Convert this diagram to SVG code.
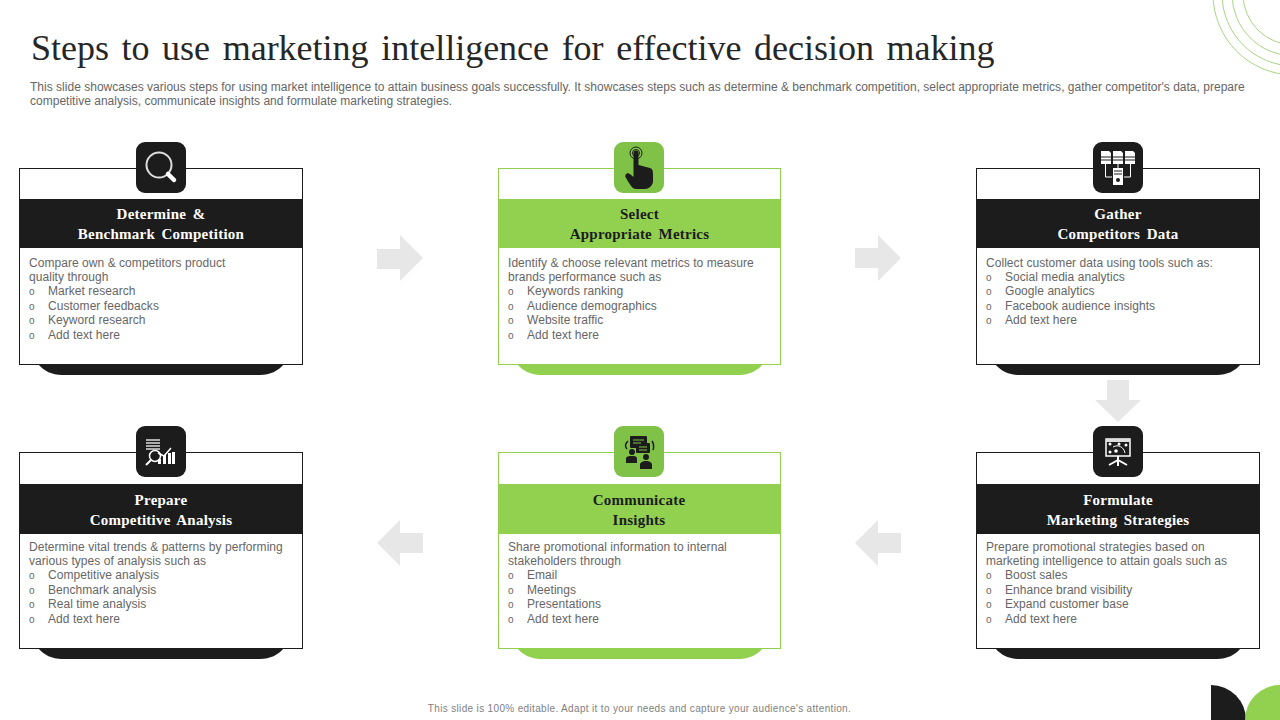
<svg xmlns="http://www.w3.org/2000/svg" width="1280" height="720" viewBox="0 0 1280 720">
<style>
text{font-family:"Liberation Sans",Arial,sans-serif}
.title{font-family:"Liberation Serif","Times New Roman",serif;font-size:36px;fill:#262626;word-spacing:3.550px}
.sub{font-size:12px;fill:#666;letter-spacing:.015px}
.foot{font-size:10px;fill:#7f7f7f;letter-spacing:.34px}
.h{font-family:"Liberation Serif","Times New Roman",serif;font-size:15px;font-weight:bold;text-anchor:middle;word-spacing:2.500px;letter-spacing:.24px}
.hw{fill:#fff}.hb{fill:#1c1c1c}
.b{font-size:12px;fill:#666;letter-spacing:.05px}
.o{font-size:10px;fill:#666}
.ring{fill:none;stroke:#a9d585;stroke-width:1}
.arrow{fill:#e7e7e7}
.cw{fill:#fff;stroke-width:1}
.k .cw{stroke:#1c1c1c}.g .cw{stroke:#92d050}
.k .f{fill:#1c1c1c}.g .f{fill:#92d050}
.g .ic{fill:#7fc247}
.dk{fill:#1c1c1c}.wt{fill:#fff}.dl{fill:none;stroke:#1c1c1c;stroke-width:1.500}
</style>
<rect width="1280" height="720" fill="#fff"/>
<g id="decor">
<circle class="ring" cx="1294" cy="-6" r="51"/><circle class="ring" cx="1294" cy="-6" r="62"/><circle class="ring" cx="1294" cy="-6" r="72"/><circle class="ring" cx="1294" cy="-6" r="81"/>
<path class="dk" d="M1211 685A35 35 0 0 1 1246 720H1211Z"/>
<path fill="#92d050" d="M1245 720A35 35 0 0 1 1280 685V720Z"/>
</g>
<text class="title" x="31" y="60">Steps to use marketing intelligence for effective decision making</text>
<text class="sub" x="30" y="91">This slide showcases various steps for using market intelligence to attain business goals successfully. It showcases steps such as determine &amp; benchmark competition, select appropriate metrics, gather competitor's data, prepare</text>
<text class="sub" x="30" y="105">competitive analysis, communicate insights and formulate marketing strategies.</text>
<g id="connectors">
<path class="arrow" d="M377 249H400V235L423 258L400 281V269H377Z"/>
<path class="arrow" d="M855 248H878V235L901 258L878 281V268H855Z"/>
<path class="arrow" d="M1107 380H1129V400H1141L1118 422L1095 400H1107Z"/>
<path class="arrow" d="M901 533H878V520L855 543L878 566V553H901Z"/>
<path class="arrow" d="M423 533H400V520L377 543L400 566V553H423Z"/>
</g>
<g id="node-determine" class="k">
<path class="f" d="M38 364H284C278 371 270 375 260 375H62C52 375 44 371 38 364Z"/>
<rect class="cw" x="19.500" y="168.500" width="283" height="196"/>
<rect class="f" x="19" y="199" width="284" height="49"/>
<rect class="f" x="136" y="142" width="50" height="51" rx="9"/>
<circle cx="159" cy="165" r="12.500" fill="none" stroke="#dedede" stroke-width="2"/>
<path d="M168 174L174 180" stroke="#fff" stroke-width="4.500" stroke-linecap="round"/>
<text class="h hw" x="161" y="219">Determine &amp;</text><text class="h hw" x="161" y="239">Benchmark Competition</text>
<text class="b" x="29" y="267">Compare own &amp; competitors product</text><text class="b" x="29" y="281">quality through</text>
<text class="o" x="29" y="295">o</text><text class="b" x="48" y="295">Market research</text>
<text class="o" x="29" y="310">o</text><text class="b" x="48" y="310">Customer feedbacks</text>
<text class="o" x="29" y="324">o</text><text class="b" x="48" y="324">Keyword research</text>
<text class="o" x="29" y="339">o</text><text class="b" x="48" y="339">Add text here</text>
</g>
<g id="node-metrics" class="g">
<path class="f" d="M517 364H763C757 371 749 375 739 375H541C531 375 523 371 517 364Z"/>
<rect class="cw" x="498.500" y="168.500" width="282" height="196"/>
<rect class="f" x="498" y="199" width="283" height="49"/>
<rect class="ic" x="614" y="142" width="50" height="51" rx="9"/>
<circle cx="636" cy="153" r="6" fill="none" stroke="#1c1c1c" stroke-width="1"/>
<circle cx="636" cy="153" r="3.500" fill="none" stroke="#1c1c1c" stroke-width="1"/>
<path class="dk" d="M633.500 153a2.500 2.500 0 0 1 5 0V165L650 168C653 169 653 172 653 175V182C652 186 649 189 645 189H636C633 189 631 186 629 183L626 178C624 175 627 172 630 174L633.500 177Z"/>
<text class="h hb" x="639.500" y="219">Select</text><text class="h hb" x="639.500" y="239">Appropriate Metrics</text>
<text class="b" x="508" y="267">Identify &amp; choose relevant metrics to measure</text><text class="b" x="508" y="281">brands performance such as</text>
<text class="o" x="508" y="295">o</text><text class="b" x="527" y="295">Keywords ranking</text>
<text class="o" x="508" y="310">o</text><text class="b" x="527" y="310">Audience demographics</text>
<text class="o" x="508" y="324">o</text><text class="b" x="527" y="324">Website traffic</text>
<text class="o" x="508" y="339">o</text><text class="b" x="527" y="339">Add text here</text>
</g>
<g id="node-gather" class="k">
<path class="f" d="M995 364H1241C1235 371 1227 375 1217 375H1019C1009 375 1001 371 995 364Z"/>
<rect class="cw" x="976.500" y="168.500" width="283" height="196"/>
<rect class="f" x="977" y="199" width="283" height="49"/>
<rect class="f" x="1093" y="142" width="50" height="51" rx="9"/>
<path class="wt" d="M1101 151H1109L1111 153V164H1101ZM1113 151H1121L1123 153V164H1113ZM1125 151H1133L1135 153V164H1125ZM1113 168H1123V185H1113Z"/>
<path d="M1101 157H1111M1113 157H1123M1125 157H1135M1101 160H1111M1113 160H1123M1125 160H1135M1114 171H1122M1114 174H1122" stroke="#1c1c1c" stroke-width="1"/>
<circle class="dk" cx="1118" cy="180" r="2"/>
<path d="M1105.500 164V177H1112M1118 164V168M1130.500 164V177H1124" stroke="#fff" stroke-width="1" fill="none"/>
<text class="h hw" x="1118" y="219">Gather</text><text class="h hw" x="1118" y="239">Competitors Data</text>
<text class="b" x="986" y="267">Collect customer data using tools such as:</text>
<text class="o" x="986" y="281">o</text><text class="b" x="1005" y="281">Social media analytics</text>
<text class="o" x="986" y="295">o</text><text class="b" x="1005" y="295">Google analytics</text>
<text class="o" x="986" y="310">o</text><text class="b" x="1005" y="310">Facebook audience insights</text>
<text class="o" x="986" y="324">o</text><text class="b" x="1005" y="324">Add text here</text>
</g>
<g id="node-formulate" class="k">
<path class="f" d="M995 648H1241C1235 655 1227 659 1217 659H1019C1009 659 1001 655 995 648Z"/>
<rect class="cw" x="976.500" y="452.500" width="283" height="196"/>
<rect class="f" x="977" y="484" width="283" height="50"/>
<rect class="f" x="1093" y="426" width="50" height="51" rx="9"/>
<rect x="1106" y="439" width="24" height="17" fill="none" stroke="#fff" stroke-width="1.500"/>
<path d="M1106 439H1130V442H1106Z" fill="#ddd"/>
<path d="M1118 456V460M1118 460L1109 465M1118 460L1127 465M1118 460V466" stroke="#fff" stroke-width="2" fill="none"/>
<circle class="wt" cx="1110" cy="444" r="1.500"/><circle class="wt" cx="1119" cy="444" r="1.500"/><circle class="wt" cx="1126" cy="445" r="1.500"/><circle class="wt" cx="1110" cy="452" r="1.500"/><circle class="wt" cx="1116" cy="451" r="1.800"/>
<path d="M1113 447C1118 444 1124 447 1125 453" stroke="#fff" fill="none"/>
<text class="h hw" x="1118" y="505">Formulate</text><text class="h hw" x="1118" y="525">Marketing Strategies</text>
<text class="b" x="986" y="551">Prepare promotional strategies based on</text><text class="b" x="986" y="565">marketing intelligence to attain goals such as</text>
<text class="o" x="986" y="579">o</text><text class="b" x="1005" y="579">Boost sales</text>
<text class="o" x="986" y="594">o</text><text class="b" x="1005" y="594">Enhance brand visibility</text>
<text class="o" x="986" y="608">o</text><text class="b" x="1005" y="608">Expand customer base</text>
<text class="o" x="986" y="623">o</text><text class="b" x="1005" y="623">Add text here</text>
</g>
<g id="node-communicate" class="g">
<path class="f" d="M517 648H763C757 655 749 659 739 659H541C531 659 523 655 517 648Z"/>
<rect class="cw" x="498.500" y="452.500" width="282" height="196"/>
<rect class="f" x="498" y="484" width="283" height="50"/>
<rect class="ic" x="614" y="426" width="50" height="51" rx="9"/>
<rect class="dk" x="630" y="436" width="17" height="12" rx="1"/>
<rect class="dk" x="636" y="443" width="14" height="10" rx="1"/>
<path d="M633 440H644M633 443H641M639 447H647M639 450H647" stroke="#7fc247" stroke-width="1"/>
<circle class="dk" cx="632" cy="452" r="3"/><circle class="dk" cx="646" cy="457" r="3"/>
<path class="dk" d="M626 463V459C626 456 629 456 632 456C635 456 637 456 637 459V463ZM640 469V465C640 462 643 461 646 461C649 461 652 462 652 465V469Z"/>
<path class="dl" d="M628 441C625 444 625 447 627 449M652 441C654 444 654 447 653 450"/>
<text class="h hb" x="639" y="505">Communicate</text><text class="h hb" x="639" y="525">Insights</text>
<text class="b" x="508" y="551">Share promotional information to internal</text><text class="b" x="508" y="565">stakeholders through</text>
<text class="o" x="508" y="579">o</text><text class="b" x="527" y="579">Email</text>
<text class="o" x="508" y="594">o</text><text class="b" x="527" y="594">Meetings</text>
<text class="o" x="508" y="608">o</text><text class="b" x="527" y="608">Presentations</text>
<text class="o" x="508" y="623">o</text><text class="b" x="527" y="623">Add text here</text>
</g>
<g id="node-prepare" class="k">
<path class="f" d="M38 648H284C278 655 270 659 260 659H62C52 659 44 655 38 648Z"/>
<rect class="cw" x="19.500" y="452.500" width="283" height="196"/>
<rect class="f" x="19" y="484" width="284" height="50"/>
<rect class="f" x="136" y="426" width="50" height="51" rx="9"/>
<path d="M146 440H160M146 443H160M146 446H160M146 449H160" stroke="#ddd" stroke-width="1.500"/>
<circle cx="155" cy="456" r="5.500" fill="none" stroke="#fff" stroke-width="1.500"/>
<path d="M151 460L146 465" stroke="#fff" stroke-width="2"/>
<path d="M158 453L164 456L171 448" stroke="#fff" stroke-width="1.500" fill="none"/>
<path class="wt" d="M158 464V459H161V464ZM163 464V455H166V464ZM168 464V453H171V464ZM172 464V452H175V464Z"/>
<text class="h hw" x="161" y="505">Prepare</text><text class="h hw" x="161" y="525">Competitive Analysis</text>
<text class="b" x="29" y="551">Determine vital trends &amp; patterns by performing</text><text class="b" x="29" y="565">various types of analysis such as</text>
<text class="o" x="29" y="579">o</text><text class="b" x="48" y="579">Competitive analysis</text>
<text class="o" x="29" y="594">o</text><text class="b" x="48" y="594">Benchmark analysis</text>
<text class="o" x="29" y="608">o</text><text class="b" x="48" y="608">Real time analysis</text>
<text class="o" x="29" y="623">o</text><text class="b" x="48" y="623">Add text here</text>
</g>
<text class="foot" x="639.500" y="712" text-anchor="middle">This slide is 100% editable. Adapt it to your needs and capture your audience's attention.</text>
</svg>
